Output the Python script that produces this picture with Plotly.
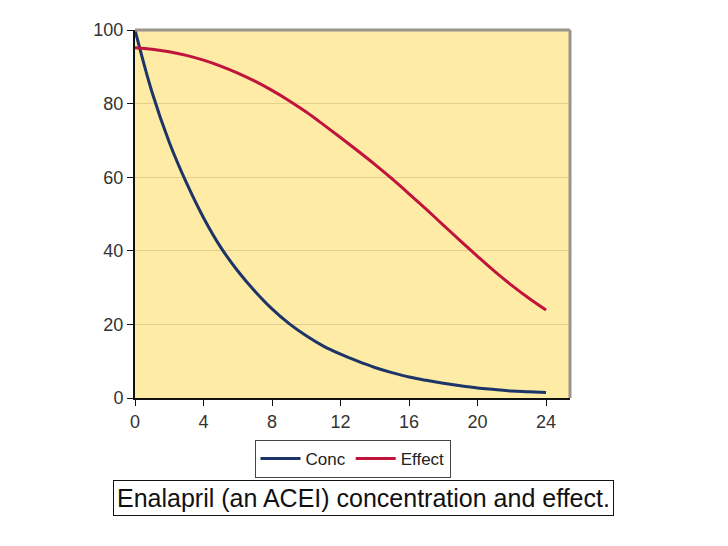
import plotly.graph_objects as go

hours = list(range(0, 25))
conc = [100, 83, 69.5, 58.5, 49, 41, 34.5, 29, 24.2, 20.2, 16.9, 14.1, 11.9,
        10, 8.3, 6.9, 5.7, 4.8, 4.0, 3.3, 2.7, 2.3, 1.9, 1.7, 1.5]
effect = [95.2, 94.8, 94.1, 93.1, 91.8, 90.2, 88.3, 86.1, 83.6, 80.8, 77.7,
          74.3, 70.8, 67.2, 63.5, 59.6, 55.5, 51.3, 47.0, 42.7, 38.5, 34.4,
          30.6, 27.1, 23.9]
x_ticks = [0, 4, 8, 12, 16, 20, 24]
y_ticks = [0, 20, 40, 60, 80, 100]
caption = "Enalapril (an ACEI) concentration and effect."

fig = go.Figure()
fig.add_trace(go.Scatter(x=hours, y=conc, mode="lines", name="Conc",
                         line=dict(color="#1d3468", width=3, shape="spline")))
fig.add_trace(go.Scatter(x=hours, y=effect, mode="lines", name="Effect",
                         line=dict(color="#c0143c", width=3, shape="spline")))

fig.update_layout(
    width=728, height=546,
    margin=dict(l=127, r=166, t=22, b=156),
    paper_bgcolor="white",
    plot_bgcolor="#fdeba6",
    font=dict(family="Liberation Sans, Arial, sans-serif", size=18, color="#333"),
    showlegend=True,
    legend=dict(orientation="h", x=0.5, xanchor="center", y=-0.114, yanchor="top",
                bordercolor="#444", borderwidth=1, bgcolor="white",
                font=dict(size=17, color="#222"), itemwidth=40),
    xaxis=dict(range=[0, 25.4], tickvals=x_ticks, ticks="outside", ticklen=6,
               tickcolor="#111", showgrid=False, zeroline=False,
               showline=True, linecolor="#111", linewidth=2),
    yaxis=dict(range=[0, 100], tickvals=y_ticks, ticks="outside", ticklen=6,
               tickcolor="#111", showgrid=True, gridcolor="#e2cf8c", gridwidth=1,
               zeroline=False, showline=True, linecolor="#111", linewidth=2),
    shapes=[
        dict(type="line", xref="paper", yref="paper", x0=0, x1=1.0, y0=1, y1=1,
             line=dict(color="#9a958c", width=3)),
        dict(type="line", xref="paper", yref="paper", x0=1.0, x1=1.0, y0=0, y1=1,
             line=dict(color="#9a958c", width=3)),
    ],
    annotations=[
        dict(text=caption, xref="paper", yref="paper", x=0.525, y=-0.272,
             xanchor="center", yanchor="middle", showarrow=False,
             font=dict(size=25, color="#111"), bordercolor="#111", borderwidth=1,
             borderpad=3, bgcolor="white"),
    ],
)

fig.write_html("out.html")
